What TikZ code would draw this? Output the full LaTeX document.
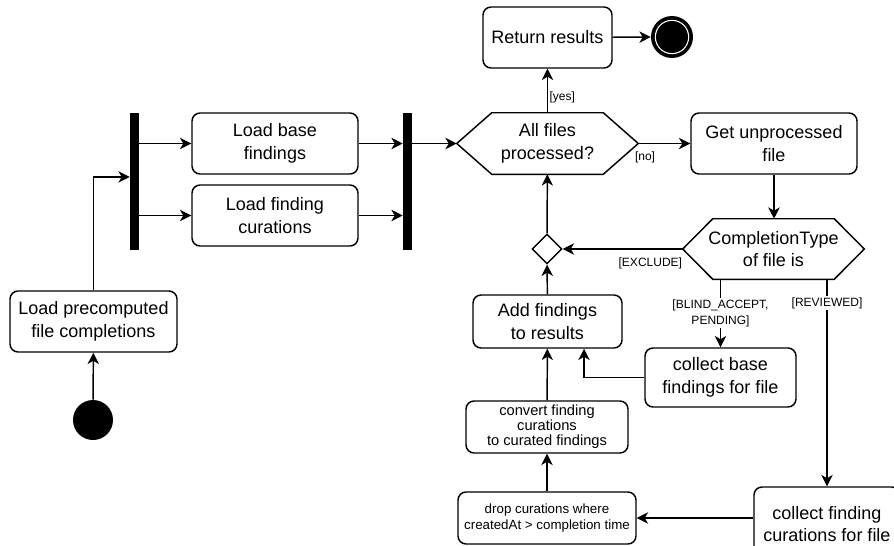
\documentclass[tikz,border=0pt]{standalone}
\usepackage{fontspec}
\setmainfont{Liberation Sans}
\usepackage{tikz}
\usetikzlibrary{arrows.meta,positioning,shapes.geometric,calc}
\tikzset{
  proc/.style  ={draw, rounded corners=6pt, line width=1.1pt, align=center, font=\fontsize{13.5}{17}\selectfont, inner sep=2pt},
  hexa/.style  ={align=center, font=\fontsize{13.5}{17}\selectfont, inner sep=2pt, minimum width=135.75pt},
  bar/.style   ={fill=black, inner sep=0pt, minimum width=6.75pt, minimum height=102.75pt},
  merge/.style ={draw, diamond, line width=1.1pt, inner sep=0pt, minimum width=22.5pt, minimum height=22.5pt},
  flow/.style  ={-{Stealth[length=8.5pt, width=8.5pt, inset=2.5pt]}, line width=1.1pt},
  lbl/.style   ={font=\fontsize{9}{12}\selectfont, fill=white, inner sep=1pt, align=center}
}
\newcommand{\hexpath}[2]{% node name, slant
  \draw[line width=1.1pt] (#1.west) -- ([xshift=#2]#1.north west) -- ([xshift=-#2]#1.north east)
    -- (#1.east) -- ([xshift=-#2]#1.south east) -- ([xshift=#2]#1.south west) -- cycle;}

\begin{document}
\begin{tikzpicture}[x=0.75pt, y=-0.75pt]
  \useasboundingbox (0,0) rectangle (894,546);
  \node[circle, fill=black, minimum size=30pt, inner sep=0pt] (start) at (93,420) {};
  \node[proc, minimum width=125.25pt, minimum height=45.75pt] (pre) at (93.5,321.5) {Load precomputed\\file completions};
  \node[bar] (fork) at (134.5,181.5) {};
  \node[proc, minimum width=124.5pt, minimum height=45.75pt] (base) at (275,143.5) {Load base\\findings};
  \node[proc, minimum width=124.5pt, minimum height=45.75pt] (cur) at (275,215.5) {Load finding\\curations};
  \node[bar] (join) at (407.5,181.5) {};
  \node[hexa, minimum height=45.75pt] (dec) at (547.5,143.5) {All files\\processed?};
  \node[proc, minimum width=96.75pt, minimum height=45.75pt] (ret) at (547.5,37.5) {Return results};
  \node[circle, fill=black, minimum size=31.5pt, inner sep=0pt,
        path picture={\fill[white] (path picture bounding box.center) circle (12.9pt);
                      \fill[black] (path picture bounding box.center) circle (12pt);}] (stop) at (672,37) {};
  \node[proc, minimum width=124.5pt, minimum height=45.75pt] (get) at (774,143.5) {Get unprocessed\\file};
  \node[hexa, minimum height=45pt] (ctype) at (773.5,249) {CompletionType\\of file is};
  \node[merge] (mrg) at (547,249) {};
  \node[proc, minimum width=111.75pt, minimum height=39.75pt] (add) at (547.5,321.5) {Add findings\\to results};
  \node[proc, minimum width=113.25pt, minimum height=44.25pt] (cb) at (720.5,377.5) {collect base\\findings for file};
  \node[proc, minimum width=121.5pt, minimum height=39pt, font=\fontsize{11}{11.2}\selectfont] (conv) at (547,427) {convert finding\\curations\\to curated findings};
  \node[proc, minimum width=133.5pt, minimum height=39pt, font=\fontsize{10}{11.5}\selectfont] (drop) at (547,518) {drop curations where\\createdAt > completion time};
  \node[proc, minimum width=109.5pt, minimum height=55.5pt] (cfc) at (827,524) {collect finding\\curations for file};
  \hexpath{dec}{26.25pt}
  \hexpath{ctype}{22.5pt}
  % fork / join
  \draw[flow] (start) -- (pre);
  \draw[flow] (pre.north) |- ([yshift=3.4pt]fork.west);
  \draw[flow] (fork.east |- base.west) -- (base.west);
  \draw[flow] (fork.east |- cur.west) -- (cur.west);
  \draw[flow] (base.east) -- (base.east -| join.west);
  \draw[flow] (cur.east) -- (cur.east -| join.west);
  \draw[flow] (join.east |- dec.west) -- (dec.west);
  % loop
  \draw[flow] (dec.north) -- node[lbl, right, pos=0.35]{[yes]} (ret.south);
  \draw[flow] (ret) -- (stop);
  \draw[flow] (dec.east) -- node[lbl, below=5pt, pos=0.13]{[no]} (get.west);
  \draw[flow] (get.south) -- (get.south |- ctype.north);
  \draw[flow] (ctype.west) -- node[lbl, below=5pt, pos=0.27]{[EXCLUDE]} (mrg.east);
  \draw[flow] (mrg) -- (dec);
  \draw[flow] (add) -- (mrg);
  \draw[flow] (ctype.south -| cb.north) -- node[lbl]{[BLIND\_ACCEPT,\\PENDING]} (cb.north);
  \draw[flow] (ctype.south -| cfc.north) -- node[lbl, pos=0.115]{[REVIEWED]} (cfc.north);
  \draw[flow] (cb.west) -| ([xshift=27.4pt]add.south);
  \draw[flow] (conv) -- (add);
  \draw[flow] (drop) -- (conv);
  \draw[flow] (cfc.west |- drop.east) -- (drop.east);
\end{tikzpicture}
\end{document}
